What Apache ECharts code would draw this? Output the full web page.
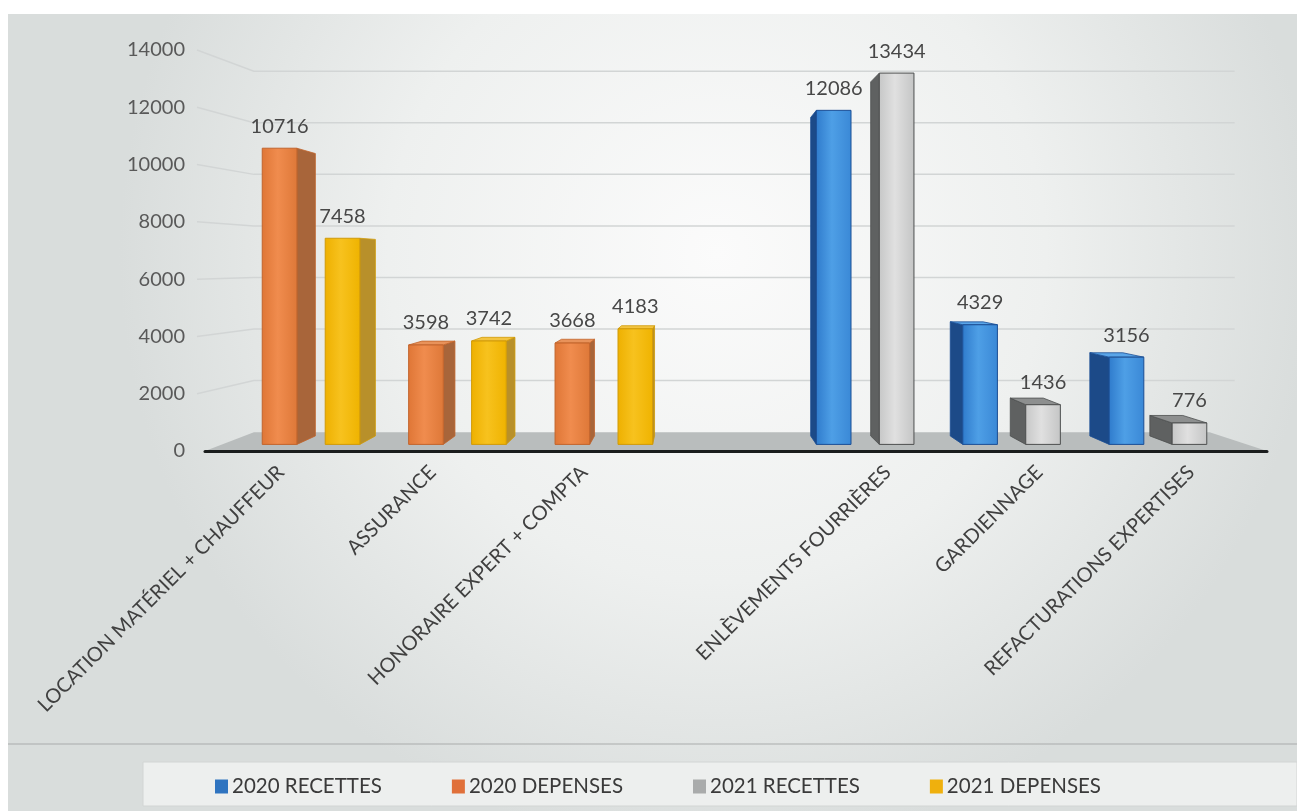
<!DOCTYPE html>
<html>
<head>
<meta charset="utf-8">
<script src="https://cdn.jsdelivr.net/npm/echarts@6/dist/echarts.min.js"></script>
<style>
html,body{margin:0;padding:0;background:#fff;}
#c{width:1297px;height:811px;}
</style>
</head>
<body>
<div id="c"></div>
<script>
// ---- data ----
const categories = ['LOCATION MATÉRIEL + CHAUFFEUR', 'ASSURANCE', 'HONORAIRE EXPERT + COMPTA', '', 'ENLÈVEMENTS FOURRIÈRES', 'GARDIENNAGE', 'REFACTURATIONS EXPERTISES'];
const seriesNames = ['2020 RECETTES', '2020 DEPENSES', '2021 RECETTES', '2021 DEPENSES'];
const recettes2020 = [null, null, null, null, 12086, 4329, 3156];
const depenses2020 = [10716, 3598, 3668, null, null, null, null];
const recettes2021 = [null, null, null, null, 13434, 1436, 776];
const depenses2021 = [7458, 3742, 4183, null, null, null, null];
const yTicks = [0, 2000, 4000, 6000, 8000, 10000, 12000, 14000];

// ---- styles ----
const styles = [
  { legend: '#2f74c0', front: ['#2f7bcc', '#4e9fe6', '#3a88d6'], side: '#1c4a88', top: '#5aa5e8', edge: '#1b4e94' },
  { legend: '#e0703a', front: ['#df7636', '#f08c4e', '#de7838'], side: '#a8653a', top: '#e8925a', edge: '#c2642c' },
  { legend: '#a9abab', front: ['#c6c7c7', '#e0e0e0', '#c4c5c5'], side: '#5f6161', top: '#8d8f8f', edge: '#4d4f4f' },
  { legend: '#efb00d', front: ['#eeb000', '#f7c21e', '#efb300'], side: '#b8902a', top: '#f3c440', edge: '#d09a08' }
];
const seriesData = [recettes2020, depenses2020, recettes2021, depenses2021];

const FRONT = 0.035, BACK = 0.08, FLOOR = 0.1;
function vpOf(cs) { return [cs.x + cs.width * 0.46, cs.y + cs.height * 0.53]; }
function lerp(p, vp, f) { return [p[0] + (vp[0] - p[0]) * f, p[1] + (vp[1] - p[1]) * f]; }

function makeBarRender(idx) {
  const st = styles[idx];
  return function (params, api) {
    const cat = api.value(0), val = api.value(1);
    const cs = params.coordSys;
    const vp = vpOf(cs);
    const band = api.size([1, 0])[0];
    const slot = band * 0.86 / 4;
    const base = api.coord([cat, 0]);
    const topP = api.coord([cat, val]);
    const xl = base[0] - band / 2 + band * 0.07 + slot * idx - slot * 0.05;
    const xr = xl + slot * 1.1;
    const yT = topP[1], yB = base[1];
    const fTL = lerp([xl, yT], vp, FRONT), fTR = lerp([xr, yT], vp, FRONT);
    const fBL = lerp([xl, yB], vp, FRONT), fBR = lerp([xr, yB], vp, FRONT);
    const bTL = lerp([xl, yT], vp, BACK), bTR = lerp([xr, yT], vp, BACK);
    const bBL = lerp([xl, yB], vp, BACK), bBR = lerp([xr, yB], vp, BACK);
    const children = [];
    if (vp[0] > fTR[0]) {
      children.push({ type: 'polygon', shape: { points: [fTR, bTR, bBR, fBR] }, style: { fill: st.side, stroke: st.edge, lineWidth: 0.8 } });
    } else if (vp[0] < fTL[0]) {
      children.push({ type: 'polygon', shape: { points: [fTL, bTL, bBL, fBL] }, style: { fill: st.side, stroke: st.edge, lineWidth: 0.8 } });
    }
    if (vp[1] < fTL[1]) {
      children.push({ type: 'polygon', shape: { points: [fTL, fTR, bTR, bTL] }, style: { fill: st.top, stroke: st.edge, lineWidth: 0.8 } });
    }
    children.push({
      type: 'rect',
      shape: { x: fTL[0], y: fTL[1], width: fTR[0] - fTL[0], height: fBL[1] - fTL[1] },
      style: {
        fill: new echarts.graphic.LinearGradient(0, 0, 1, 0, [
          { offset: 0, color: st.front[0] }, { offset: 0.45, color: st.front[1] }, { offset: 1, color: st.front[2] }
        ]),
        stroke: st.edge, lineWidth: 1
      }
    });
    children.push({
      type: 'text',
      style: {
        text: String(val), x: (fTL[0] + fTR[0]) / 2, y: fTL[1] - 12,
        align: 'center', verticalAlign: 'bottom',
        fontSize: 20, fontFamily: 'Lato', fill: '#474747'
      }
    });
    return { type: 'group', children };
  };
}

function gridRender(params, api) {
  const val = api.value(0);
  const cs = params.coordSys;
  const vp = vpOf(cs);
  const p0 = api.coord([0, val]);
  const y = p0[1];
  const x0 = cs.x, x1 = cs.x + cs.width;
  const bl = lerp([x0, y], vp, FLOOR), br = lerp([x1, y], vp, FLOOR);
  const children = [];
  if (val === 0) {
    children.push({ type: 'polygon', shape: { points: [[x0, y], [x1, y], br, bl] }, style: { fill: '#b9bdbd' } });
  } else {
    children.push({ type: 'polyline', shape: { points: [[x0 - 8, y], bl, [br[0] + 25, br[1]]] }, style: { stroke: '#d2d5d5', lineWidth: 1.5, fill: null } });
  }
  return { type: 'group', children };
}

const series = [{
  type: 'custom', name: 'grid', z: 1, silent: true,
  data: yTicks.map(v => [v]),
  encode: { y: 0 },
  renderItem: gridRender
}];
seriesData.forEach((arr, idx) => {
  const data = [];
  arr.forEach((v, i) => { if (v !== null) data.push([i, v]); });
  series.push({
    type: 'custom', name: seriesNames[idx], z: 3,
    itemStyle: { color: styles[idx].legend },
    data, encode: { x: 0, y: 1 },
    renderItem: makeBarRender(idx)
  });
});

const chart = echarts.init(document.getElementById('c'));
chart.setOption({
  animation: false,
  backgroundColor: '#ffffff',
  graphic: [
    { type: 'rect', z: -100, silent: true, shape: { x: 8, y: 14, width: 1289, height: 797 },
      style: { fill: new echarts.graphic.RadialGradient(0.55, 0.3, 0.75, [
        { offset: 0, color: '#fbfbfb' }, { offset: 0.55, color: '#eef0ef' }, { offset: 1, color: '#d9dddc' }]) } },
    { type: 'line', z: -90, silent: true, shape: { x1: 8, y1: 744, x2: 1297, y2: 744 }, style: { stroke: '#a9acab', lineWidth: 1.2 } },
    { type: 'rect', z: -90, silent: true, shape: { x: 143, y: 762, width: 1154, height: 44 },
      style: { fill: '#edefee', stroke: '#d2d5d4', lineWidth: 1 } }
  ],
  grid: { left: 205, right: 30, top: 50, bottom: 360, containLabel: false },
  legend: {
    data: seriesNames, left: 210, top: 771, icon: 'rect', itemWidth: 13, itemHeight: 14, itemGap: 70,
    textStyle: { fontFamily: 'Lato', fontSize: 20.5, color: '#3a3a3a', padding: [0, 0, 0, -1] }
  },
  xAxis: {
    type: 'category', data: categories, z: 10,
    axisLine: { lineStyle: { color: '#1a1d1d', width: 3 } },
    axisTick: { show: false },
    axisLabel: { interval: 0, rotate: 45, margin: 18, fontFamily: 'Lato', fontSize: 20, color: '#404040' },
    splitLine: { show: false }
  },
  yAxis: {
    type: 'value', min: 0, max: 14000, interval: 2000,
    axisLine: { show: false }, axisTick: { show: false }, splitLine: { show: false },
    axisLabel: { margin: 20, fontFamily: 'Lato', fontSize: 20, color: '#595959', formatter: function (v) { return String(v); } }
  },
  series
});
</script>
</body>
</html>
